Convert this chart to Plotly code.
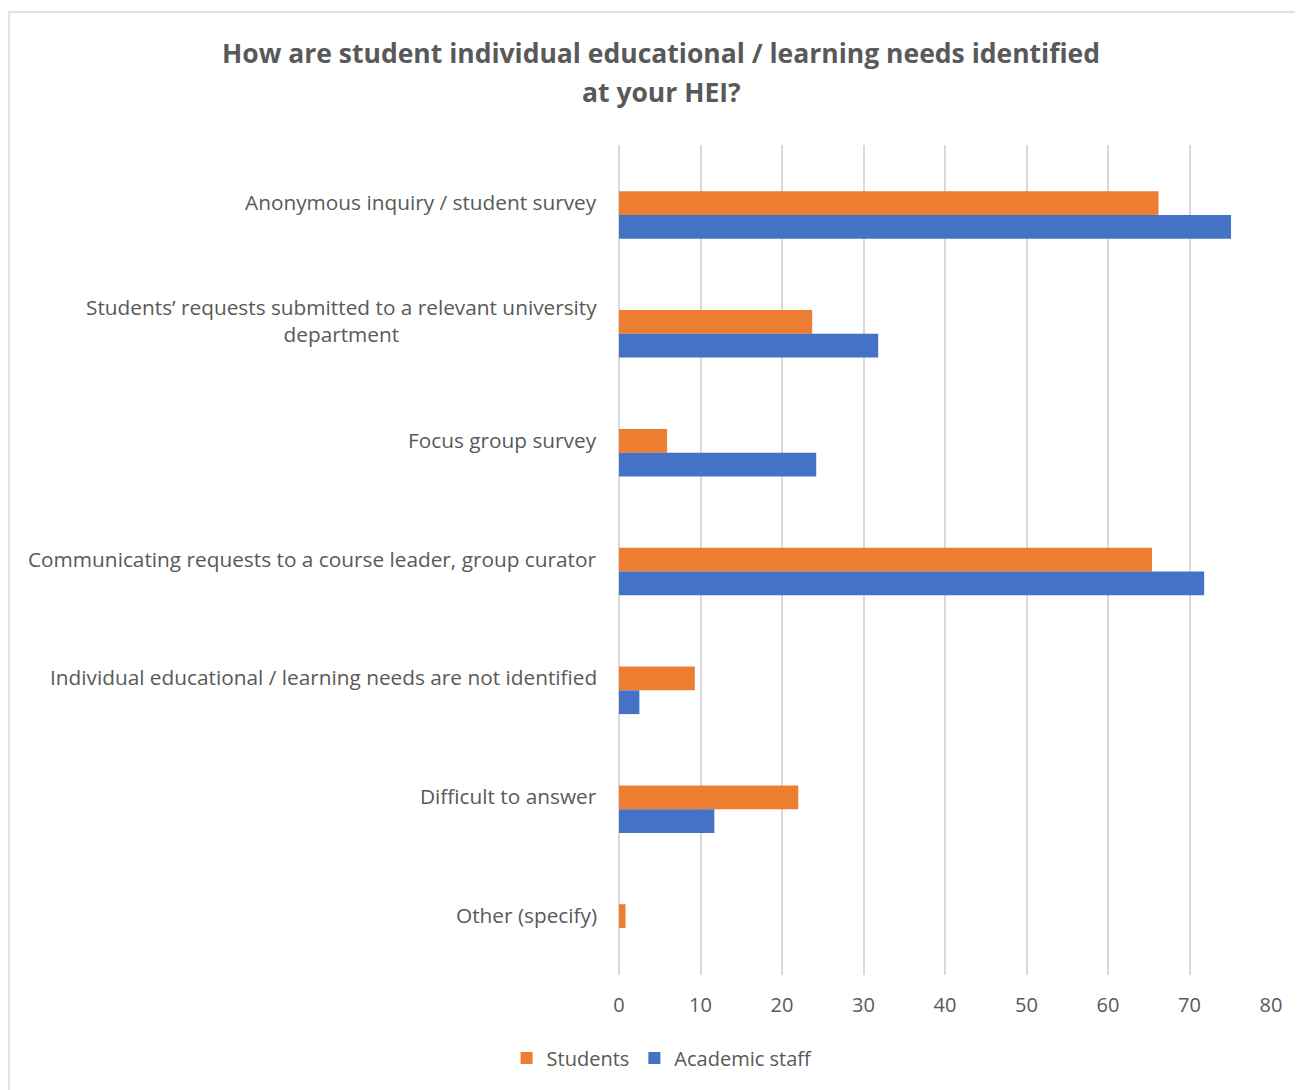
import plotly.graph_objects as go

categories = [
    "Anonymous inquiry / student survey",
    "Students’ requests submitted to a relevant university<br>department",
    "Focus group survey",
    "Communicating requests to a course leader, group curator",
    "Individual educational / learning needs are not identified",
    "Difficult to answer",
    "Other (specify)",
]
students = [66.2, 23.7, 5.9, 65.4, 9.3, 22.0, 0.8]
staff = [75.1, 31.8, 24.2, 71.8, 2.5, 11.7, 0.0]
x_ticks = [0, 10, 20, 30, 40, 50, 60, 70, 80]

FONT = "Open Sans"
GREY = "#595959"
OFF = 8  # page body offset
W, H = 1303, 1090
L, R, T, B = 619 - OFF, 1271 - OFF, 145 - OFF, 975 - OFF  # plot area in figure px
PW, PH = R - L, B - T

fig = go.Figure()
fig.add_trace(go.Bar(y=categories, x=students, orientation="h", name="Students",
                     marker=dict(color="#ED7D31", line=dict(width=0))))
fig.add_trace(go.Bar(y=categories, x=staff, orientation="h", name="Academic staff",
                     marker=dict(color="#4472C4", line=dict(width=0))))

fig.update_layout(
    width=W, height=H,
    paper_bgcolor="white", plot_bgcolor="white",
    margin=dict(l=L, r=W - R, t=T, b=H - B),
    barmode="group", bargap=0.6, bargroupgap=0,
    font=dict(family=FONT, color=GREY, size=18),
    legend=dict(orientation="h", x=0.502, xanchor="center", xref="container",
                y=1 - (1058 - OFF) / H, yanchor="middle", yref="container",
                font=dict(size=20, color=GREY), itemwidth=30, traceorder="normal"),
    showlegend=True,
)

title_lines = ["How are student individual educational / learning needs identified", "at your HEI?"]
for txt, yc in zip(title_lines, [53, 92]):
    fig.add_annotation(text="<b>" + txt + "</b>", xref="paper", yref="paper",
                       x=(661 - OFF - L) / PW, y=(B - (yc - OFF)) / PH,
                       xanchor="center", yanchor="middle", showarrow=False,
                       font=dict(size=26.5, color=GREY, family=FONT))

# category labels (centre-aligned lines, right-anchored, slightly above bar centre)
for k, cat in enumerate(categories):
    fig.add_annotation(text=cat, xref="paper", yref="y", x=(599 - 619) / PW, y=k,
                       xanchor="right", yanchor="middle", align="center",
                       yshift=13, showarrow=False,
                       font=dict(size=20.8, color=GREY, family=FONT))

# categorical y range so bar group centres sit at 215 + 118.8*k (reference px)
px_per_cat = (928 - 215) / 6
top_val = -(215 - 145) / px_per_cat
bot_val = 6 + (975 - 928) / px_per_cat

fig.update_xaxes(range=[0, 80], tickvals=x_ticks, showgrid=True, gridcolor="#D9D9D9",
                 gridwidth=2, zeroline=True, zerolinecolor="#D9D9D9", zerolinewidth=2,
                 showline=False, ticks="", ticklabelstandoff=16,
                 tickfont=dict(size=20, color=GREY), fixedrange=True)
fig.update_yaxes(range=[bot_val, top_val], showgrid=False, zeroline=False, showline=False,
                 ticks="", showticklabels=False)

# chart border (left and top edges visible)
fig.add_shape(type="rect", xref="paper", yref="paper",
              x0=(9 - OFF - L) / PW, x1=(1330 - L) / PW,
              y0=(B - 1110) / PH, y1=(B - (12 - OFF)) / PH,
              line=dict(color="#D9D9D9", width=1.5), fillcolor="rgba(0,0,0,0)", layer="below")

fig.write_html("out.html")
